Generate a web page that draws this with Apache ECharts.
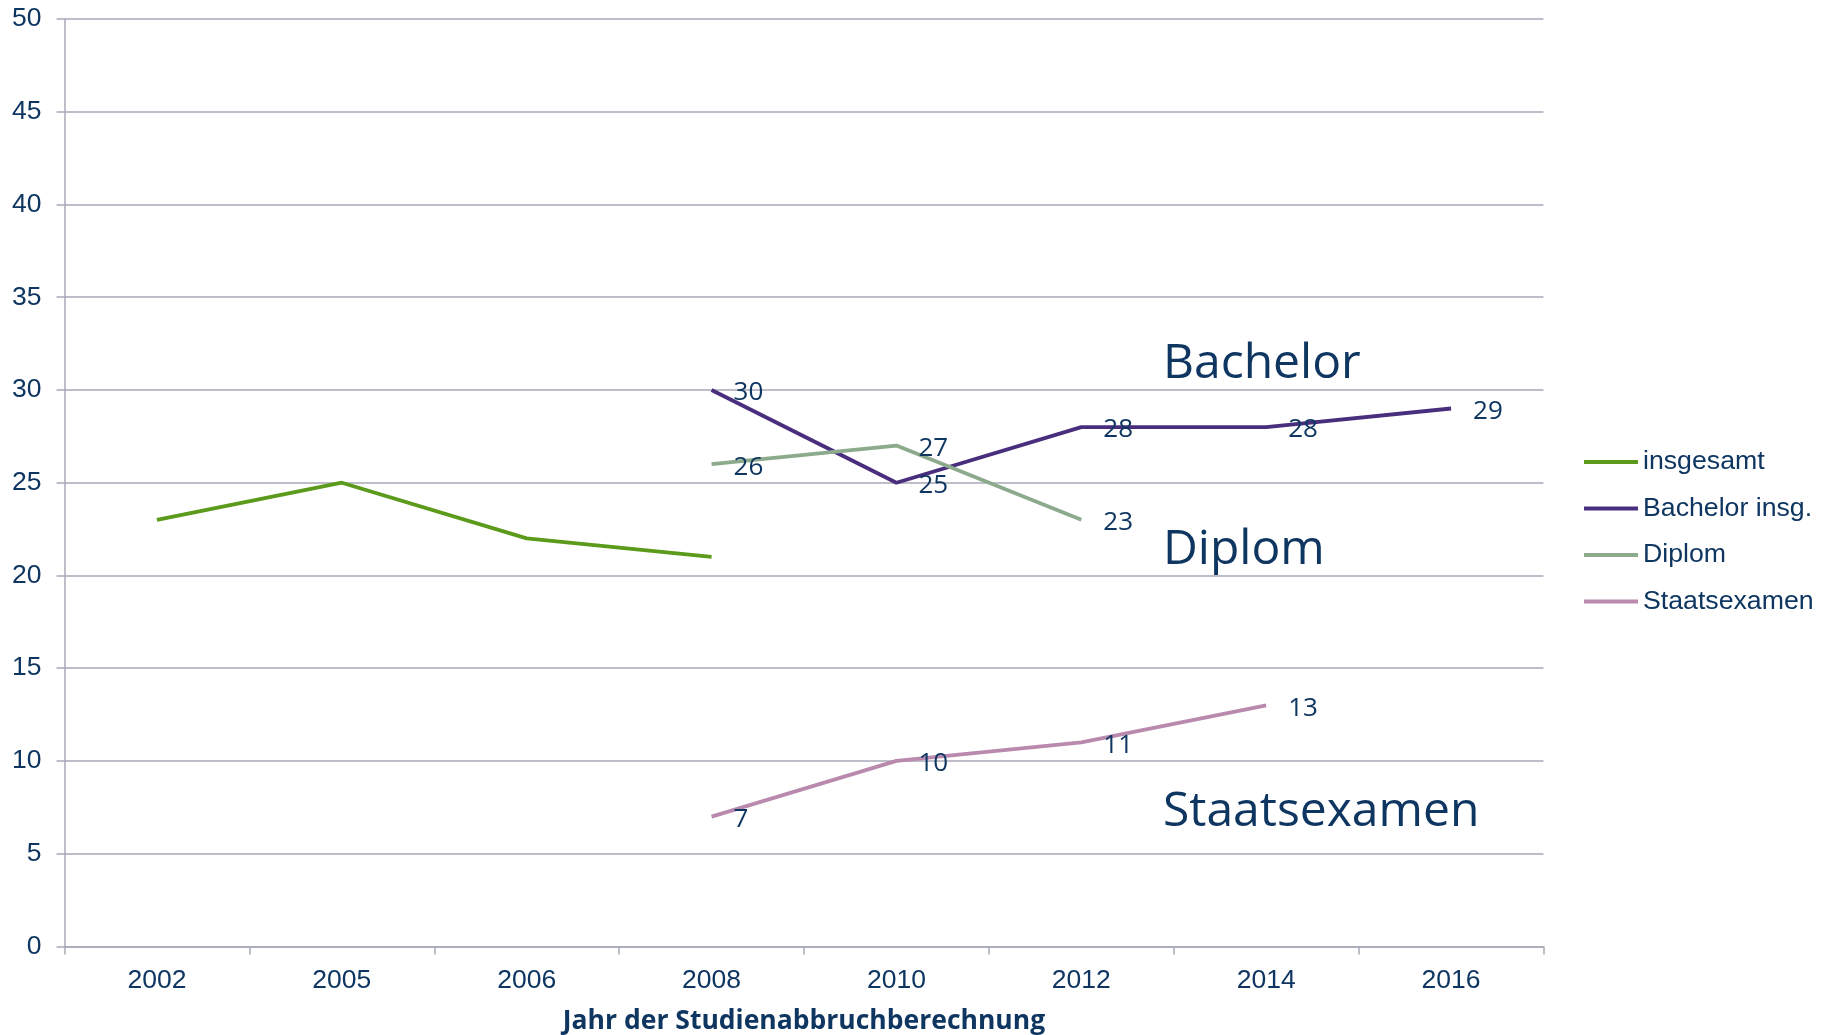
<!DOCTYPE html>
<html>
<head>
<meta charset="utf-8">
<script src="https://cdn.jsdelivr.net/npm/echarts@6/dist/echarts.min.js"></script>
<style>
    html, body { margin: 0; padding: 0; background: #fff; }
    #main { width: 1829px; height: 1035px; }
</style>
</head>
<body>
<div id="main"></div>
<script>
    // Studienabbruchquoten nach Abschlussart
    var years = ['2002', '2005', '2006', '2008', '2010', '2012', '2014', '2016'];
    var insgesamt = [23, 25, 22, 21, null, null, null, null];
    var bachelor = [null, null, null, 30, 25, 28, 28, 29];
    var diplom = [null, null, null, 26, 27, 23, null, null];
    var staatsexamen = [null, null, null, 7, 10, 11, 13, null];
    var yTicks = { min: 0, max: 50, interval: 5 };

    var navy = '#0e3661';
    var gridGray = '#a7a9b7';

    var chart = echarts.init(document.getElementById('main'));

    function lineSeries(name, data, color, showLabel) {
        return {
            name: name,
            type: 'line',
            data: data,
            // invisible symbol so the value labels get drawn
            symbol: 'circle',
            symbolSize: 0,
            showSymbol: true,
            connectNulls: false,
            lineStyle: { color: color, width: 3.8 },
            itemStyle: { color: color },
            label: {
                show: showLabel,
                position: 'right',
                distance: 22,
                offset: [0, 3],
                color: navy,
                fontFamily: 'Open Sans',
                fontSize: 26
            },
            emphasis: { disabled: true },
            z: 2
        };
    }

    var option = {
        animation: false,
        grid: {
            left: 64.5, right: 285.5, top: 19, bottom: 88.6,
            containLabel: false,
            outerBoundsMode: 'none'
        },
        legend: {
            orient: 'vertical',
            left: 1584,
            top: 448.5,
            padding: 0,
            icon: 'rect',
            itemWidth: 54,
            itemHeight: 4,
            itemGap: 19.5,
            textStyle: { fontFamily: 'Liberation Sans', fontSize: 26.7, color: navy, lineHeight: 26 },
            data: ['insgesamt', 'Bachelor insg.', 'Diplom', 'Staatsexamen']
        },
        xAxis: {
            type: 'category',
            data: years,
            boundaryGap: true,
            axisLine: { lineStyle: { color: gridGray, width: 1.5 } },
            axisTick: { show: true, length: 8, lineStyle: { color: gridGray, width: 1.5 } },
            axisLabel: { margin: 21, color: navy, fontFamily: 'Liberation Sans', fontSize: 26.5 },
            name: 'Jahr der Studienabbruchberechnung',
            nameLocation: 'middle',
            nameGap: 62,
            nameTextStyle: { fontFamily: 'Open Sans', fontWeight: 'bold', fontSize: 26.5, color: navy }
        },
        yAxis: {
            type: 'value',
            min: yTicks.min,
            max: yTicks.max,
            interval: yTicks.interval,
            axisLine: { show: true, lineStyle: { color: gridGray, width: 1.5 } },
            axisTick: { show: true, length: 8, lineStyle: { color: gridGray, width: 1.5 } },
            axisLabel: { margin: 23, color: navy, fontFamily: 'Liberation Sans', fontSize: 26.5 },
            splitLine: { lineStyle: { color: gridGray, width: 1.5 } }
        },
        graphic: [
            { type: 'text', x: 1163, y: 364, style: { text: 'Bachelor', fill: navy, font: '48px "Open Sans"', verticalAlign: 'middle' } },
            { type: 'text', x: 1163, y: 550, style: { text: 'Diplom', fill: navy, font: '48px "Open Sans"', verticalAlign: 'middle' } },
            { type: 'text', x: 1163, y: 812, style: { text: 'Staatsexamen', fill: navy, font: '48px "Open Sans"', verticalAlign: 'middle' } }
        ],
        series: [
            lineSeries('insgesamt', insgesamt, '#5b9a1b', false),
            lineSeries('Bachelor insg.', bachelor, '#4a2e7e', true),
            lineSeries('Diplom', diplom, '#8caa8c', true),
            lineSeries('Staatsexamen', staatsexamen, '#b98aae', true)
        ]
    };

    chart.setOption(option);
</script>
</body>
</html>
